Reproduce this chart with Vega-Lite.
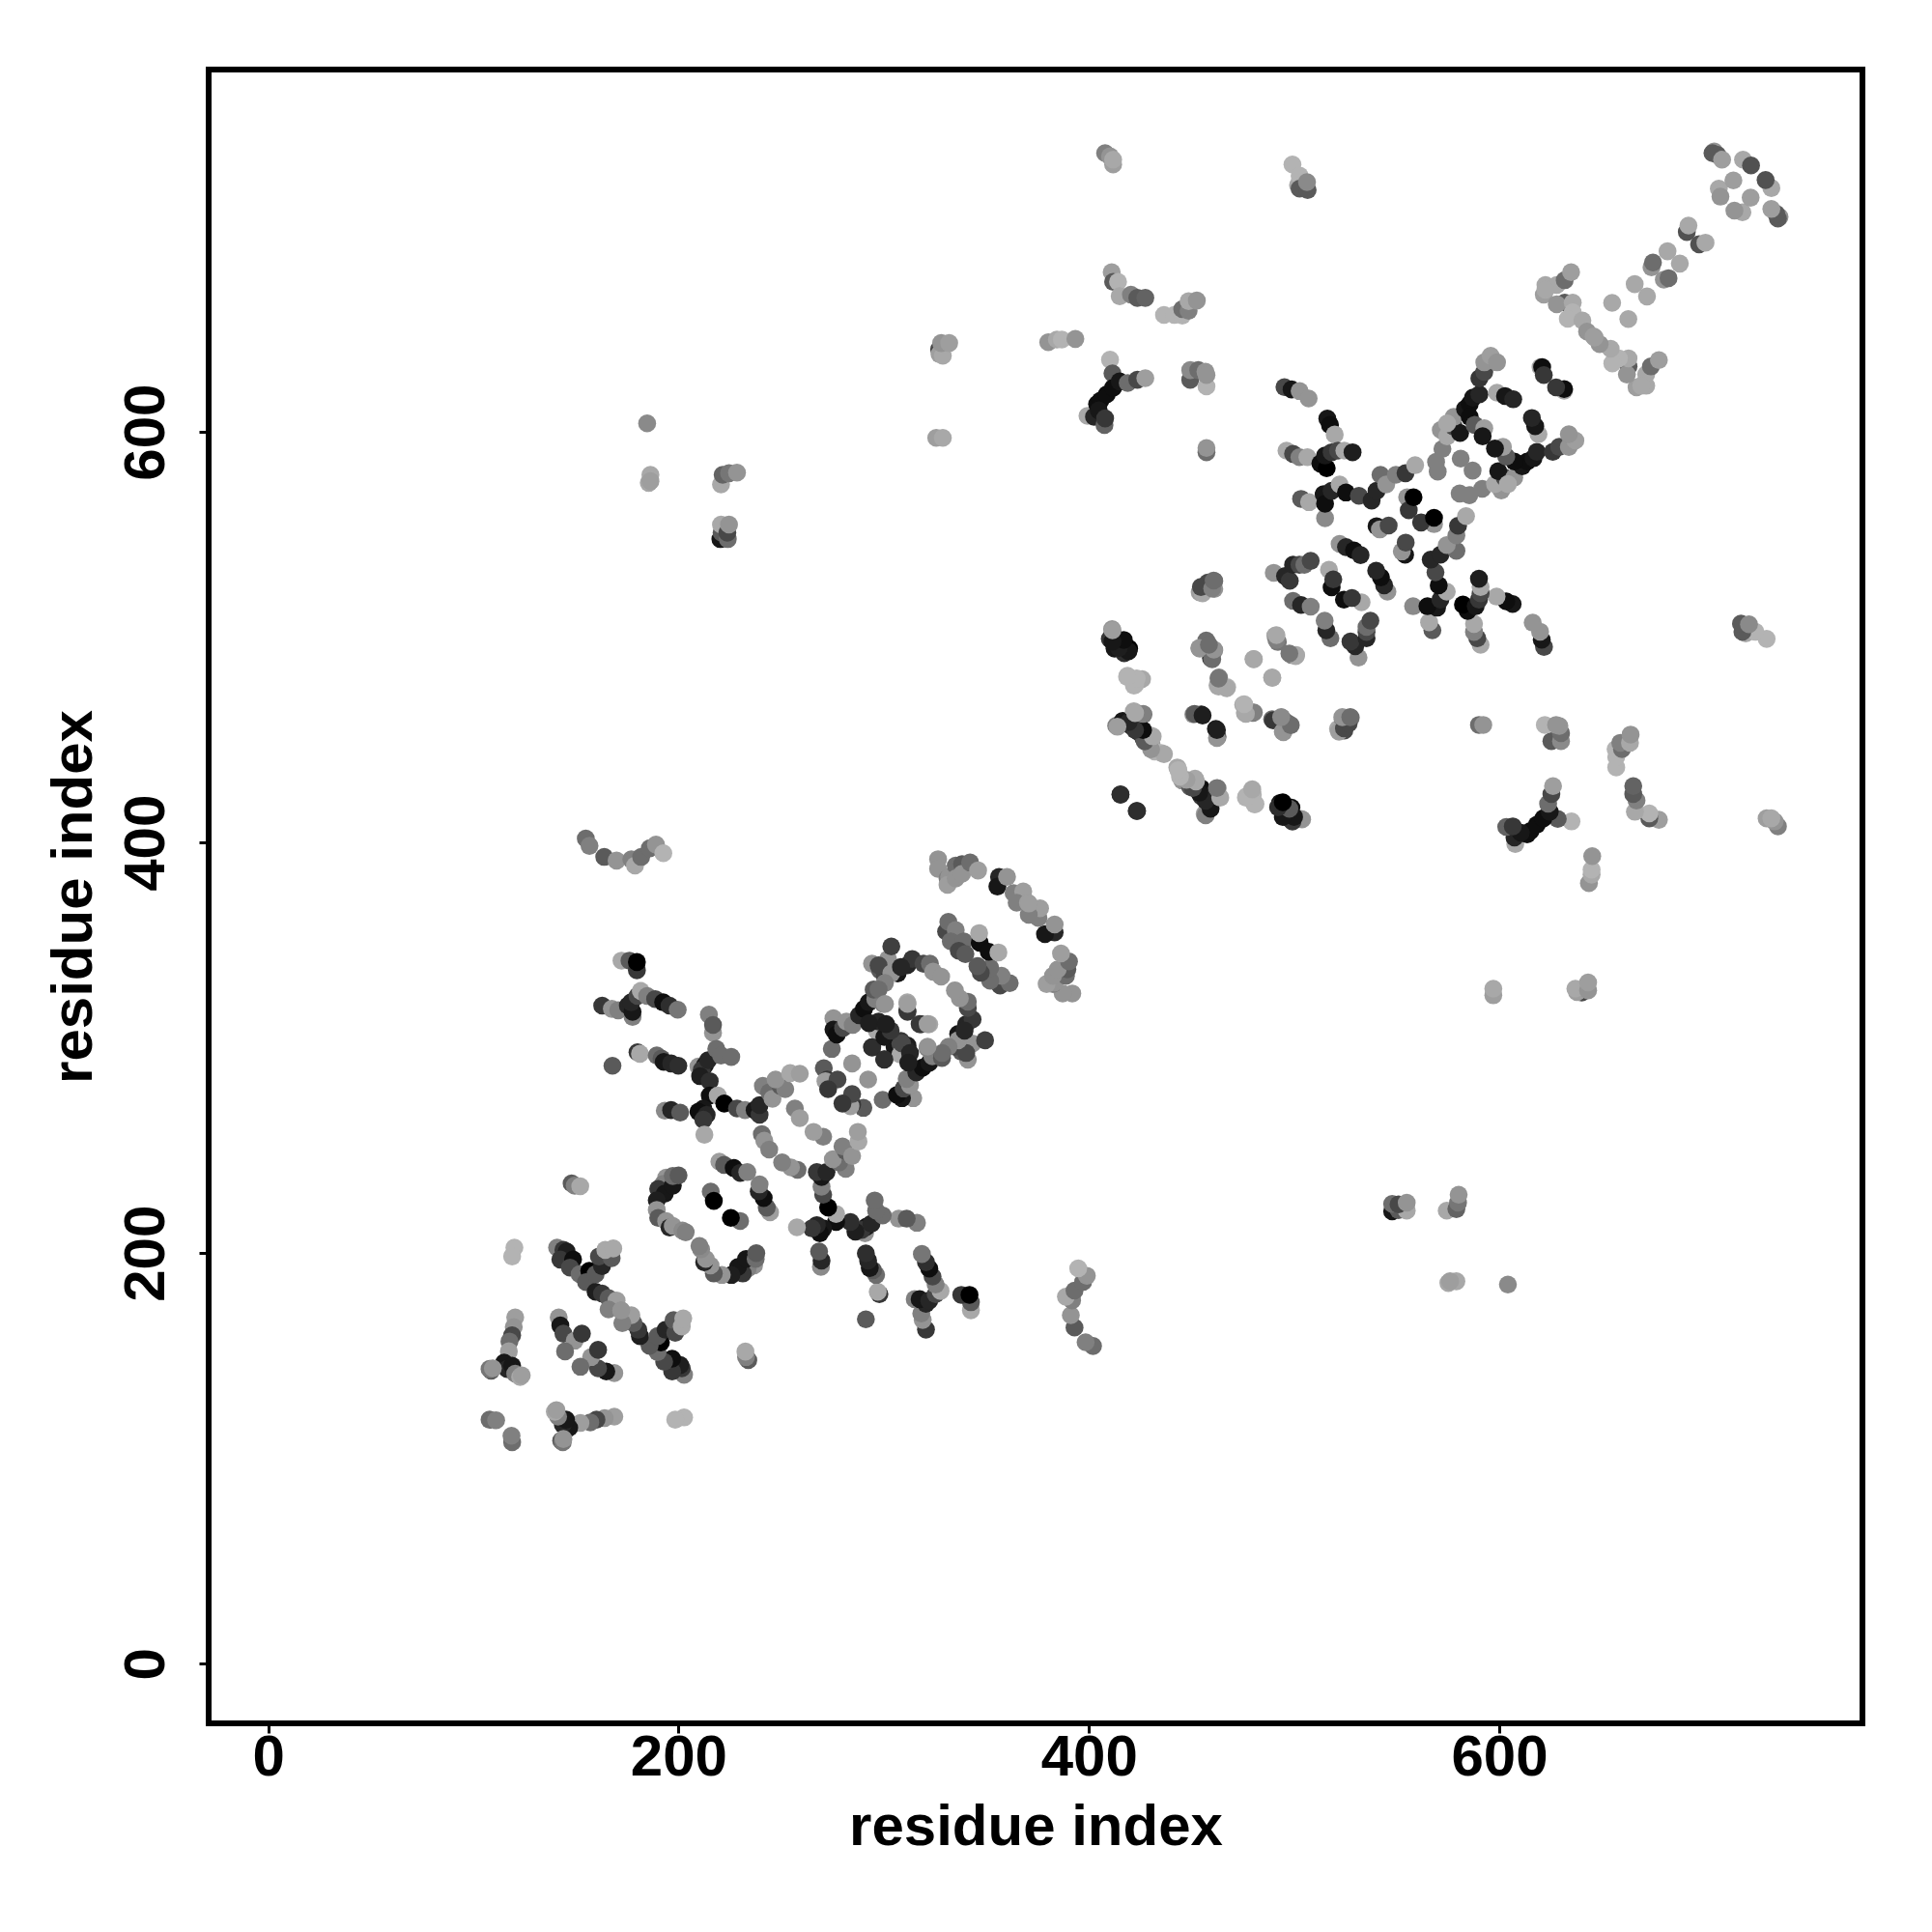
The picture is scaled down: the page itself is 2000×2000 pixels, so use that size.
{"$schema":"https://vega.github.io/schema/vega-lite/v6.json","autosize":{"type":"none"},"padding":{"left":216,"top":72,"right":72,"bottom":216},"width":1712,"height":1712,"background":"white","config":{"view":{"stroke":"#000000","strokeWidth":6},"axis":{"grid":false,"domain":false,"ticks":true,"tickColor":"#000000","tickWidth":3,"tickSize":10,"labelFont":"Liberation Sans","labelFontWeight":"bold","labelFontSize":60,"labelColor":"#000000","titleFont":"Liberation Sans","titleFontWeight":"bold","titleFontSize":60,"titleColor":"#000000"}},
"data":{"values":[
{"i":120,"j":202.7,"s":9.5},{"i":118.9,"j":198.4,"s":9.5},{"i":147.9,"j":234,"s":5},{"i":149.4,"j":232.9,"s":7},{"i":152.1,"j":232.6,"s":9},{"i":107.9,"j":118.9,"s":6},{"i":111.1,"j":118.6,"s":7},
{"i":120.4,"j":168.7,"s":8.5},{"i":119.7,"j":164,"s":8},{"i":118.9,"j":160,"s":4},{"i":117.6,"j":157,"s":6},{"i":117.3,"j":152.2,"s":8.5},{"i":115,"j":146.7,"s":1},{"i":116.5,"j":143.6,"s":2},{"i":108.7,"j":142.8,"s":5},{"i":107.9,"j":143.6,"s":6.5},{"i":109.5,"j":143.9,"s":8},{"i":118.9,"j":145.2,"s":1},{"i":120.4,"j":141.3,"s":7},{"i":122.8,"j":139.7,"s":9},{"i":123.6,"j":140.5,"s":8.5},
{"i":141.6,"j":168.7,"s":8},{"i":142.4,"j":164.8,"s":1},{"i":143.9,"j":160.8,"s":4},{"i":149.4,"j":157.4,"s":8},{"i":152.9,"j":160.8,"s":3},{"i":144.7,"j":152.2,"s":6},
{"i":140.8,"j":202.7,"s":7},{"i":143.9,"j":201.6,"s":3},{"i":145.5,"j":200.8,"s":1.5},{"i":142.4,"j":196.9,"s":3},{"i":148.6,"j":196.9,"s":0.5},{"i":147.1,"j":193,"s":4},{"i":151.8,"j":189.8,"s":6},{"i":156.5,"j":191.4,"s":0},{"i":154.9,"j":185.9,"s":5},{"i":159.6,"j":181.2,"s":1.5},{"i":162.7,"j":180.4,"s":3},{"i":165.9,"j":178.1,"s":5},{"i":169.8,"j":177,"s":8.5},{"i":165.9,"j":172.6,"s":7},{"i":172.1,"j":172.1,"s":8},
{"i":159.6,"j":189.8,"s":5},{"i":162.7,"j":193.7,"s":2},{"i":161.2,"j":198.4,"s":4},{"i":167.4,"j":197.6,"s":5},{"i":164.3,"j":201.6,"s":9},{"i":168.2,"j":202.3,"s":9},
{"i":194,"j":236.8,"s":8},{"i":192.5,"j":233.7,"s":7},{"i":190.1,"j":231.3,"s":3},{"i":193.3,"j":229,"s":1},{"i":189.4,"j":225.8,"s":1.5},{"i":189.4,"j":221.1,"s":8},{"i":197.2,"j":232.9,"s":1},{"i":197.2,"j":237.6,"s":6},{"i":200,"j":237.9,"s":5},{"i":190.1,"j":217.2,"s":5},{"i":194,"j":215.6,"s":8},{"i":195.6,"j":212.5,"s":2},{"i":197.2,"j":213.3,"s":8},{"i":201.9,"j":211,"s":7.5},{"i":203.5,"j":210.2,"s":7},
{"i":215.7,"j":230,"s":6},{"i":217.2,"j":225.5,"s":0},{"i":219.9,"j":244.6,"s":8.5},{"i":222.2,"j":243,"s":5},{"i":226.9,"j":241.5,"s":0.5},{"i":230.1,"j":239.1,"s":2},{"i":233.5,"j":239.5,"s":7},
{"i":172.2,"j":342.5,"s":9},{"i":176.1,"j":342.5,"s":5},{"i":179.7,"j":337.8,"s":3},{"i":179.7,"j":341.8,"s":0},
{"i":162.8,"j":320.6,"s":3},{"i":167.5,"j":319,"s":8},{"i":170.6,"j":318.3,"s":7},{"i":175.3,"j":320.6,"s":2},{"i":177.6,"j":315.1,"s":7},{"i":177.6,"j":317.5,"s":1},{"i":176.9,"j":322.2,"s":2},{"i":180,"j":325.3,"s":4},{"i":181.6,"j":327.7,"s":9},{"i":184.7,"j":325.3,"s":7},{"i":188.6,"j":323.8,"s":4},{"i":192.5,"j":322.2,"s":0.5},{"i":195.6,"j":320.6,"s":2.5},{"i":199.6,"j":318.6,"s":6.5},
{"i":180,"j":297.9,"s":3},{"i":181.2,"j":297.1,"s":9},{"i":189.4,"j":296.3,"s":6},{"i":191.7,"j":294.8,"s":5},{"i":192.8,"j":293.2,"s":1},{"i":196.4,"j":292.4,"s":2},{"i":199.9,"j":291.3,"s":2.5},{"i":167.8,"j":291.3,"s":5},
{"i":214.8,"j":316.2,"s":7},{"i":216.8,"j":307.3,"s":8},{"i":216.8,"j":311.2,"s":5},{"i":209.7,"j":290.9,"s":8},{"i":212.9,"j":291.6,"s":1},{"i":211.3,"j":289.3,"s":3},{"i":214.4,"j":294,"s":2},{"i":218.4,"j":299.5,"s":6},{"i":220.7,"j":296.3,"s":6},{"i":225.7,"j":295.6,"s":6},{"i":210.5,"j":286.2,"s":1.5},{"i":215.2,"j":283.8,"s":2.5},
{"i":215.2,"j":276.8,"s":0.5},{"i":219.1,"j":276.8,"s":9},{"i":212.1,"j":270.5,"s":1},{"i":209.7,"j":268.9,"s":0.5},{"i":213.7,"j":267.4,"s":2},{"i":212.1,"j":265,"s":3},{"i":222.3,"j":272.9,"s":0},{"i":228.5,"j":270.5,"s":4},{"i":232.4,"j":269.7,"s":7},
{"i":193.3,"j":269.4,"s":7.5},{"i":196.4,"j":269.7,"s":2},{"i":200.8,"j":268.5,"s":5},{"i":212.6,"j":257.7,"s":9},
{"i":237.1,"j":269.7,"s":1},{"i":239.5,"j":267.4,"s":3},{"i":239.5,"j":272.1,"s":2},{"i":241.1,"j":281.5,"s":7},{"i":244.2,"j":278.3,"s":6},{"i":245.8,"j":275.2,"s":8},{"i":249.7,"j":281.5,"s":5},{"i":252,"j":279.9,"s":7},{"i":247.3,"j":284.6,"s":8},{"i":254.4,"j":287.7,"s":9},{"i":259.1,"j":287.4,"s":8.5},{"i":256.7,"j":270.5,"s":7},{"i":259.1,"j":265.8,"s":8.5},
{"i":240.6,"j":258,"s":6},{"i":241.8,"j":254.8,"s":8},{"i":244.2,"j":250.5,"s":7},
{"i":274.7,"j":299.5,"s":6},{"i":270.8,"j":290.1,"s":5},{"i":272.4,"j":284.6,"s":3},{"i":271.6,"j":283.8,"s":8.5},{"i":277.5,"j":284.6,"s":4},{"i":284.6,"j":292.4,"s":8},{"i":272.9,"j":279.9,"s":3},
{"i":275.5,"j":314.4,"s":8},{"i":275.5,"j":308.9,"s":1},{"i":277.1,"j":306.5,"s":0.5},{"i":280.2,"j":309.7,"s":4},{"i":281.8,"j":312.8,"s":8},{"i":284.9,"j":311.2,"s":7},{"i":288,"j":315.9,"s":2},{"i":290.4,"j":319,"s":0.5},{"i":292.7,"j":322.2,"s":1},{"i":295.9,"j":323.7,"s":7},{"i":299.8,"j":321.4,"s":7},{"i":295.1,"j":328.4,"s":5},{"i":294.3,"j":341,"s":8},{"i":298.2,"j":337.8,"s":5},{"i":300.6,"j":334.7,"s":4},{"i":302.9,"j":337,"s":2.5},{"i":302.1,"j":343.3,"s":8},{"i":303.7,"j":349.4,"s":3.5},{"i":306.8,"j":336.3,"s":1},{"i":311.5,"j":340.2,"s":2},{"i":313.9,"j":343.3,"s":3},{"i":311.5,"j":318.3,"s":2},{"i":311.5,"j":322.2,"s":9},{"i":294.3,"j":300.3,"s":2},{"i":302.1,"j":308.1,"s":4},{"i":293.5,"j":312,"s":2},{"i":299,"j":311.2,"s":2},{"i":296.7,"j":308.1,"s":9},
{"i":297.5,"j":340.2,"s":4},{"i":303.7,"j":336.3,"s":8},{"i":308.4,"j":339.4,"s":2},{"i":319.4,"j":341,"s":4},{"i":322.5,"j":341,"s":6},{"i":324.1,"j":337.1,"s":8},{"i":328,"j":334.7,"s":8},{"i":300.6,"j":331.6,"s":7},{"i":297.5,"j":328.5,"s":6},{"i":300.6,"j":321.4,"s":8},{"i":311.6,"j":317.5,"s":3},{"i":311.6,"j":321.4,"s":8.5},{"i":294.4,"j":300.3,"s":2.5},{"i":302.2,"j":308.9,"s":4},{"i":297.5,"j":312.8,"s":2},{"i":292.8,"j":312,"s":1.5},{"i":305.3,"j":300.3,"s":1},{"i":308.4,"j":303.4,"s":3},{"i":311.6,"j":301.1,"s":1.5},
{"i":326.5,"j":391.9,"s":8},{"i":326.5,"j":387.2,"s":8},{"i":331.1,"j":382.5,"s":7},{"i":331.9,"j":383.3,"s":8},{"i":335.1,"j":388.8,"s":6},{"i":338.2,"j":389.5,"s":5},{"i":331.1,"j":379.4,"s":8.5},{"i":335.1,"j":382.5,"s":8},{"i":338.2,"j":384.8,"s":8},{"i":342.1,"j":390.3,"s":6},{"i":346,"j":386.4,"s":8.5},
{"i":356.2,"j":383.3,"s":2},{"i":355.4,"j":378.6,"s":1},{"i":360.1,"j":383.3,"s":8},{"i":363.3,"j":375.4,"s":7},{"i":368,"j":376.2,"s":8.5},{"i":364.8,"j":370.7,"s":7},{"i":370.3,"j":370.7,"s":8.5},
{"i":330.4,"j":356.7,"s":4},{"i":331.5,"j":361.4,"s":6},{"i":335.1,"j":357.4,"s":7},{"i":332.7,"j":351.9,"s":6},{"i":339,"j":351.9,"s":6},{"i":336.6,"j":347.3,"s":4},{"i":339.8,"j":345.7,"s":5},{"i":346.8,"j":351.2,"s":0.5},{"i":346.5,"j":355.9,"s":9},
{"i":407.9,"j":735.8,"s":7},{"i":410.3,"j":734.2,"s":8},{"i":411.8,"j":730.3,"s":8.5},{"i":411.8,"j":732.6,"s":9},
{"i":499.2,"j":730.3,"s":9.5},{"i":501.9,"j":720.1,"s":9},{"i":502.7,"j":724.8,"s":9.5},{"i":502.7,"j":718.5,"s":5},{"i":506.6,"j":717.8,"s":5},{"i":506.3,"j":721.7,"s":7.5},
{"i":411.1,"j":677.8,"s":8.5},{"i":411.8,"j":673.1,"s":5},{"i":414.2,"j":673.1,"s":9.5},{"i":415,"j":666.1,"s":9},{"i":420.5,"j":666.9,"s":7},{"i":423.6,"j":665.3,"s":5},{"i":427.5,"j":665.3,"s":5.5},
{"i":436.6,"j":657,"s":9.5},{"i":441.6,"j":657,"s":9.5},{"i":445.5,"j":656.7,"s":9.5},{"i":445.5,"j":659.8,"s":6},{"i":448.6,"j":659,"s":7},{"i":448.6,"j":663.7,"s":9},{"i":452.6,"j":664,"s":8},
{"i":380.2,"j":643.7,"s":8},{"i":384.4,"j":645,"s":9},{"i":386.8,"j":645,"s":9.5},{"i":393.4,"j":645.3,"s":8},
{"i":410.3,"j":635.2,"s":9.5},{"i":411.5,"j":628.5,"s":5},{"i":399.3,"j":607.8,"s":9},{"i":402.5,"j":607.4,"s":2},{"i":404,"j":613.6,"s":0.5},{"i":405.6,"j":615.2,"s":0.5},{"i":408.7,"j":618.3,"s":0.5},{"i":411.8,"j":621.5,"s":0.5},{"i":415,"j":624.6,"s":1},{"i":418.9,"j":623.8,"s":6},{"i":423.6,"j":625.4,"s":4},{"i":427.5,"j":626.2,"s":8.5},{"i":404.8,"j":610.5,"s":1},{"i":407.6,"j":603.4,"s":5.5},{"i":407.9,"j":606.6,"s":3},
{"i":449.4,"j":625.4,"s":5},{"i":449.4,"j":630.1,"s":7.5},{"i":453.3,"j":630.1,"s":6},{"i":457.3,"j":622.2,"s":9.5},{"i":456.8,"j":629.3,"s":8},{"i":457.3,"j":627.7,"s":8},{"i":457.3,"j":590.1,"s":6},{"i":457.3,"j":592.2,"s":8},
{"i":495.3,"j":621.8,"s":4},{"i":498.8,"j":620.7,"s":1},{"i":502.7,"j":619.9,"s":8},{"i":507.1,"j":616.3,"s":8},
{"i":184.7,"j":604.2,"s":7.5},{"i":185.5,"j":575.2,"s":9},{"i":186.3,"j":579.1,"s":9},{"i":186.3,"j":576,"s":8.5},{"i":220.7,"j":574.4,"s":9},{"i":221.5,"j":579.1,"s":5.5},{"i":224.6,"j":579.9,"s":6.5},{"i":228.5,"j":580.2,"s":8},
{"i":220.4,"j":547.8,"s":1},{"i":221,"j":550.9,"s":5},{"i":224,"j":547.8,"s":6},{"i":220.7,"j":554.9,"s":9},{"i":223.8,"j":550.9,"s":4},{"i":224.6,"j":554.9,"s":8},
{"i":327,"j":640.2,"s":4},{"i":327.2,"j":637.9,"s":8.5},{"i":328.8,"j":637.1,"s":9},{"i":328,"j":643.3,"s":8},{"i":331.9,"j":643.3,"s":8.5},{"i":325.6,"j":597.1,"s":8.5},{"i":328.8,"j":597.1,"s":9},
{"i":154.8,"j":402,"s":6},{"i":156.6,"j":398.4,"s":7},{"i":163.8,"j":393,"s":5},{"i":169.8,"j":391.2,"s":8},{"i":177,"j":391.8,"s":7},{"i":178.8,"j":388.8,"s":9},{"i":181.8,"j":393,"s":6},{"i":186,"j":397.2,"s":6},{"i":189,"j":399,"s":8},{"i":192.6,"j":394.8,"s":9.5},
{"i":411.3,"j":503.9,"s":8},{"i":410.2,"j":499.2,"s":3},{"i":412.5,"j":500,"s":1},{"i":412.5,"j":494.5,"s":1},{"i":416.5,"j":497.7,"s":5},{"i":417.2,"j":492.2,"s":2.5},{"i":419.6,"j":494.5,"s":0},
{"i":418.8,"j":481.2,"s":9.5},{"i":421.9,"j":476.5,"s":9.5},{"i":425.9,"j":479.6,"s":9},
{"i":413.3,"j":456.9,"s":7},{"i":416.5,"j":459.3,"s":1},{"i":420.4,"j":456.9,"s":2},{"i":421.9,"j":464,"s":9},{"i":424.3,"j":453.8,"s":1},{"i":426.6,"j":450.7,"s":4},{"i":426.6,"j":462.4,"s":6.5},{"i":429.8,"j":452.2,"s":9},{"i":430.6,"j":447.5,"s":8.5},{"i":432.1,"j":444.4,"s":9.5},{"i":435.3,"j":443.6,"s":9.5},{"i":443.1,"j":436.6,"s":9},{"i":445.4,"j":430.3,"s":8},{"i":449.3,"j":427.2,"s":5},{"i":451.7,"j":431.1,"s":9},{"i":454.8,"j":426.4,"s":0.5},{"i":454.8,"j":422.5,"s":3},{"i":458.7,"j":419.4,"s":2},{"i":456.4,"j":413.9,"s":8.5},{"i":462.7,"j":426.4,"s":7},{"i":463.1,"j":422.5,"s":9},
{"i":415.4,"j":423.3,"s":2.5},{"i":423.5,"j":415.4,"s":2.5},{"i":476.8,"j":422.5,"s":9.5},{"i":479.9,"j":423.3,"s":9.5},{"i":480.7,"j":418.6,"s":9.5},
{"i":493.2,"j":419.3,"s":1},{"i":494.8,"j":414.6,"s":1.5},{"i":498.7,"j":417,"s":0.5},{"i":497.9,"j":411.5,"s":1},{"i":503.4,"j":411.5,"s":8.5},
{"i":450.9,"j":462.4,"s":8},{"i":454.8,"j":462.4,"s":1.5},{"i":462.7,"j":451.5,"s":5},{"i":461.9,"j":455.4,"s":1.5},
{"i":463.4,"j":480.4,"s":7},{"i":462.7,"j":476.5,"s":9},{"i":467.4,"j":475.7,"s":9.5},{"i":475.2,"j":467.1,"s":9},{"i":476,"j":463.2,"s":9},{"i":479.9,"j":463.2,"s":6.5},
{"i":489.3,"j":460.1,"s":6},{"i":494.8,"j":453.8,"s":8},{"i":494,"j":460.9,"s":8},{"i":496.3,"j":458.5,"s":6},
{"i":521.4,"j":455.4,"s":9},{"i":524.5,"j":454.6,"s":4},{"i":523.7,"j":460.1,"s":7},{"i":527.6,"j":460.8,"s":6},
{"i":454,"j":521.9,"s":8.5},{"i":455.6,"j":524.3,"s":4},{"i":458,"j":526.6,"s":4},{"i":461.1,"j":523.5,"s":8},{"i":461.1,"j":527.4,"s":6},
{"i":459.5,"j":489.8,"s":3},{"i":454,"j":494.5,"s":8},{"i":457.2,"j":498.4,"s":6},{"i":461.1,"j":493.7,"s":7.5},
{"i":490.8,"j":500.8,"s":9},{"i":492.1,"j":497.7,"s":6.5},{"i":498.7,"j":491.4,"s":7},{"i":501,"j":491.4,"s":9},{"i":480.2,"j":489.4,"s":9},{"i":489.3,"j":480.4,"s":9},
{"i":516.2,"j":606.5,"s":1},{"i":517.5,"j":603.4,"s":0.5},{"i":519.8,"j":598.7,"s":9},
{"i":496.3,"j":590.9,"s":9},{"i":499.5,"j":589.3,"s":4},{"i":502.6,"j":587.7,"s":7},{"i":506.5,"j":587.7,"s":9},
{"i":512.8,"j":584.6,"s":0.5},{"i":515.9,"j":582.3,"s":0},{"i":515.1,"j":588.5,"s":1},{"i":518.3,"j":590.1,"s":3},{"i":521.4,"j":590.9,"s":4},{"i":524.5,"j":590.9,"s":9},{"i":528.5,"j":590.1,"s":1.5},
{"i":503.4,"j":567.4,"s":5},{"i":507.3,"j":565.8,"s":9},{"i":515.1,"j":558,"s":7.5},{"i":514.4,"j":569.7,"s":1},{"i":515.1,"j":565,"s":0.5},{"i":518.3,"j":571.3,"s":2},{"i":522.2,"j":574.4,"s":9},{"i":525.3,"j":570.5,"s":0.5},{"i":531.6,"j":568.9,"s":4},{"i":537.8,"j":566.6,"s":2},
{"i":540.2,"j":571.3,"s":2},{"i":542.1,"j":579.1,"s":6},{"i":544.9,"j":574.4,"s":8},{"i":549.6,"j":579.1,"s":7},{"i":554.3,"j":579.9,"s":3},{"i":559,"j":583.8,"s":9},
{"i":540.2,"j":554.1,"s":1},{"i":541.8,"j":552.5,"s":8},{"i":546.1,"j":554.4,"s":4},{"i":555.1,"j":568.2,"s":8},{"i":555.9,"j":561.9,"s":3},{"i":558.2,"j":568.2,"s":0},
{"i":522.2,"j":545.5,"s":8},{"i":525.3,"j":543.9,"s":2},{"i":529.2,"j":542.3,"s":0.5},{"i":532.4,"j":540,"s":2},
{"i":490.1,"j":531.4,"s":8},{"i":495.6,"j":529.8,"s":2},{"i":497.9,"j":527.5,"s":3},{"i":499.5,"j":535.3,"s":2},{"i":502.6,"j":535.3,"s":4},{"i":505,"j":535.3,"s":6},{"i":508.1,"j":537.2,"s":4},
{"i":517,"j":532.9,"s":9},{"i":518.3,"j":524.3,"s":0.5},{"i":519.1,"j":528.2,"s":3},
{"i":499.5,"j":517.7,"s":6},{"i":503.4,"j":515.7,"s":2},{"i":508.1,"j":514.9,"s":7},
{"i":569.2,"j":585.4,"s":7},{"i":570,"j":580.7,"s":7},{"i":581.2,"j":587,"s":7},
{"i":572.3,"j":591.7,"s":7},{"i":571.5,"j":601,"s":8},{"i":574.6,"j":597.9,"s":9},{"i":577.8,"j":602.6,"s":4},{"i":580.9,"j":599.5,"s":1},{"i":577.8,"j":607.3,"s":8},{"i":574.6,"j":604.2,"s":9},{"i":583.3,"j":611.2,"s":1},{"i":585.6,"j":613.6,"s":0.5},{"i":587.2,"j":616.7,"s":1},{"i":590.3,"j":618.3,"s":2},{"i":590.3,"j":626.1,"s":3},{"i":592.7,"j":629.2,"s":4},{"i":592.7,"j":633.9,"s":8},{"i":595.8,"j":637.1,"s":8.5},{"i":598.9,"j":633.9,"s":8},
{"i":585.6,"j":607.3,"s":0.5},{"i":588,"j":603.4,"s":5},{"i":592.7,"j":601.8,"s":8.5},{"i":591.9,"j":597.9,"s":1},{"i":598.9,"j":619.1,"s":9},{"i":602.8,"j":617.5,"s":1},{"i":606.8,"j":615.9,"s":2},
{"i":620.1,"j":631.6,"s":9},{"i":620.9,"j":631.6,"s":0.5},{"i":621.7,"j":627.7,"s":3},
{"i":704.7,"j":736.6,"s":8},{"i":703.9,"j":735.8,"s":5},{"i":706.3,"j":735,"s":5},{"i":708.6,"j":732.6,"s":8.5},{"i":718.8,"j":732.6,"s":9},{"i":722.7,"j":729.8,"s":4.5},{"i":707,"j":718.5,"s":9},{"i":707.8,"j":714.6,"s":8},{"i":714.1,"j":722.5,"s":8.5},
{"i":691.4,"j":697.4,"s":4.5},{"i":692.2,"j":700.5,"s":9},{"i":682,"j":688,"s":9},{"i":674.2,"j":680.2,"s":8},{"i":674.9,"j":682.5,"s":6},{"i":666,"j":672,"s":9},{"i":655,"j":662.9,"s":9},
{"i":622.5,"j":671.6,"s":9},{"i":628,"j":671.6,"s":9},{"i":621.7,"j":666.9,"s":8.5},{"i":622.5,"j":669.2,"s":9},{"i":631.9,"j":663,"s":5},{"i":628,"j":662.2,"s":8},{"i":631.9,"j":673.9,"s":6},{"i":635,"j":677.8,"s":8.5},{"i":635.8,"j":663,"s":9},{"i":635.8,"j":658.3,"s":9.5},{"i":633.4,"j":655.1,"s":9.5},{"i":640.5,"j":654.3,"s":9},{"i":642.8,"j":648.9,"s":8},{"i":646,"j":646.5,"s":8.5}
]},
"layer":[
{"mark":{"type":"circle","size":345,"opacity":1},"encoding":{
"x":{"field":"i","type":"quantitative","title":"residue index","scale":{"domain":[-29,777],"nice":false,"zero":false},"axis":{"values":[0,200,400,600],"labelPadding":-4,"titlePadding":13,"labelFlush":false,"labelOverlap":false}},
"y":{"field":"j","type":"quantitative","title":"residue index","scale":{"domain":[-29,776.5],"nice":false,"zero":false},"axis":{"values":[0,200,400,600],"labelAngle":-90,"labelAlign":"center","labelBaseline":"bottom","labelPadding":24,"titlePadding":14,"labelFlush":false,"labelOverlap":false}},
"color":{"field":"s","type":"quantitative","legend":null,"scale":{"domain":[0,10],"range":["#000000","#bdbdbd"]}}}},
{"mark":{"type":"circle","size":345,"opacity":1},"encoding":{
"x":{"field":"j","type":"quantitative","title":"residue index"},
"y":{"field":"i","type":"quantitative","title":"residue index"},
"color":{"field":"s","type":"quantitative","legend":null}}}
]}
